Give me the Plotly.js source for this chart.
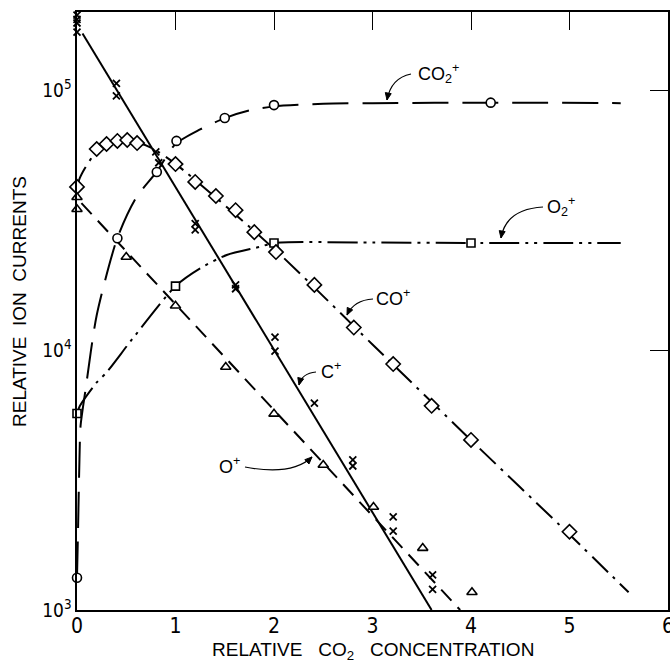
<!DOCTYPE html>
<html><head><meta charset="utf-8">
<script src="https://cdn.plot.ly/plotly-3.0.1.min.js"></script>
<style>html,body{margin:0;padding:0;background:#fff}#c{width:670px;height:670px}</style>
</head><body><div id="c"></div>
<script>
// ---- data ----
// CO2+ (circles)
const co2X = [0, 0.41, 0.81, 1.01, 1.5, 2.0, 4.2];
const co2Y = [1330, 26900, 48400, 63700, 78000, 87500, 89400];
const co2FitX = [0, 0.01, 0.025, 0.036, 0.086, 0.2, 0.41, 0.6, 0.81, 1.0, 1.25, 1.5, 1.75, 2.0, 2.5, 3.0, 4.2, 5.52];
const co2FitY = [1330, 2000, 3800, 5100, 7000, 13600, 27000, 38500, 48500, 62000, 70500, 78000, 83500, 86500, 88500, 89000, 89400, 89000];
// O2+ (squares)
const o2X = [0, 1.0, 2.0, 4.0];
const o2Y = [5700, 17600, 25800, 25800];
const o2FitX = [0, 0.03, 0.2, 0.3, 0.56, 1.0, 1.25, 1.52, 1.85, 2.0, 3.0, 4.0, 5.52];
const o2FitY = [5700, 6100, 7500, 8200, 11000, 17600, 20600, 23200, 24900, 25800, 25900, 25800, 25800];
// CO+ (diamonds)
const coX = [0, 0.2, 0.3, 0.41, 0.51, 0.61, 1.0, 1.2, 1.41, 1.61, 1.8, 2.02, 2.41, 2.81, 3.21, 3.6, 4.0, 5.0];
const coY = [42400, 59300, 62000, 63700, 64200, 62500, 51900, 44300, 39100, 34500, 28400, 23800, 17800, 12200, 8830, 6100, 4510, 2000];
const coFitX = [0, 0.03, 0.08, 0.15, 0.2, 0.3, 0.45, 0.6, 0.76, 1.0, 2.0, 3.0, 4.0, 5.0, 5.6];
const coFitY = [42400, 46000, 50000, 55000, 58500, 62000, 64000, 63000, 59800, 52000, 24500, 10500, 4500, 1950, 1170];
// C+ (crosses)
const cX = [0, 0, 0, 0, 0.4, 0.4, 0.8, 0.83, 1.2, 1.2, 1.61, 1.61, 2.01, 2.01, 2.41, 2.8, 2.8, 3.21, 3.21, 3.61, 3.61];
const cY = [194000, 187000, 181000, 167000, 106000, 95000, 57800, 52500, 30600, 29000, 17800, 17200, 11200, 9900, 6250, 3780, 3580, 2280, 2010, 1365, 1200];
const cFitX = [0.056, 3.6];
const cFitY = [165000, 1000];
// O+ (triangles)
const oX = [0, 0, 0.5, 1.0, 1.51, 2.0, 2.5, 3.01, 3.51, 4.01];
const oY = [38700, 34800, 22800, 14800, 8600, 5680, 3610, 2490, 1730, 1170];
const oFitX = [0.045, 3.89];
const oFitY = [36700, 1000];

const xTicks = [0, 1, 2, 3, 4, 5, 6];
const yTicks = [1000, 10000, 100000];
const yTickText = ['10<sup>3</sup>', '10<sup>4</sup>', '10<sup>5</sup>'];

// ---- styling ----
const FONT = '"Liberation Sans Narrow", "DejaVu Sans Condensed", "Liberation Sans", sans-serif';
const LAB = '"Liberation Sans", Arial, sans-serif';
const K = 'black';

function line(x, y, dash, shape) {
  return {x, y, mode: 'lines', line: {color: K, width: 2, dash, shape: shape || 'spline', smoothing: 0.7},
          hoverinfo: 'skip', cliponaxis: false};
}
function marks(x, y, symbol, size) {
  return {x, y, mode: 'markers', cliponaxis: false,
          marker: {symbol, size, color: 'white', line: {color: K, width: 1.6}}};
}

const traces = [
  line(co2FitX, co2FitY, '36px,14px'),
  line(o2FitX, o2FitY, '30px,6px,3px,6px,3px,6px'),
  line(coFitX, coFitY, '22px,7px,3px,7px'),
  line(cFitX, cFitY, 'solid', 'linear'),
  line(oFitX, oFitY, '15px,9px', 'linear'),
  marks(co2X, co2Y, 'circle', 9),
  marks(o2X, o2Y, 'square', 8),
  marks(coX, coY, 'diamond', 11),
  marks(oX, oY, 'triangle-up', 9),
  {x: cX, y: cY, mode: 'markers', cliponaxis: false,
   marker: {symbol: 'x-thin-open', size: 7, color: K, line: {color: K, width: 1.8}}},
  {x: [], y: [], xaxis: 'x2', yaxis: 'y2', mode: 'markers', hoverinfo: 'skip'}
];

// plot box in pixels
const L = 77, R = 668, T = 12, B = 610;
function P(px, py) { return [(px - L) / (R - L), (B - py) / (B - T)]; }
function arrow(x0, y0, cx, cy, x1, y1) {
  const a = P(x0, y0), c = P(cx, cy), b = P(x1, y1);
  let dx = x1 - cx, dy = y1 - cy; const n = Math.hypot(dx, dy); dx /= n; dy /= n;
  const bl = 7, hw = 3;
  const bx = x1 - dx * bl, by = y1 - dy * bl;
  const h1 = P(bx - dy * hw, by + dx * hw), h2 = P(bx + dy * hw, by - dx * hw);
  return [
    {type: 'path', xref: 'paper', yref: 'paper',
     path: `M ${a[0]} ${a[1]} Q ${c[0]} ${c[1]} ${b[0]} ${b[1]}`, line: {color: K, width: 1.2}},
    {type: 'path', xref: 'paper', yref: 'paper', fillcolor: K,
     path: `M ${b[0]} ${b[1]} L ${h1[0]} ${h1[1]} L ${h2[0]} ${h2[1]} Z`, line: {color: K, width: 1}}
  ];
}
const shapes = [].concat(
  arrow(411, 74, 391, 78, 387, 100),
  arrow(543, 207, 506, 209, 501, 238),
  arrow(373, 299, 354, 300, 347, 315),
  arrow(316, 372, 302, 373, 299, 385),
  arrow(245, 467, 292, 476, 312, 457)
);
function lab(px, py, text) {
  const p = P(px, py);
  return {xref: 'paper', yref: 'paper', x: p[0], y: p[1], xanchor: 'left', yanchor: 'middle',
          text, showarrow: false, font: {family: LAB, size: 18, color: K}};
}
const NB = '\u00a0';
const annotations = [
  lab(416, 73, 'CO<sub>2</sub><sup>+</sup>'),
  lab(545, 206, 'O<sub>2</sub><sup>+</sup>'),
  lab(374, 297, 'CO<sup>+</sup>'),
  lab(319, 370, 'C<sup>+</sup>'),
  lab(217, 465, 'O<sup>+</sup>'),
  {xref: 'paper', yref: 'paper', x: P(373, 0)[0], y: P(0, 651)[1], xanchor: 'center', yanchor: 'middle',
   text: 'RELATIVE' + NB + NB + NB + 'CO<sub>2</sub>' + NB + NB + NB + 'CONCENTRATION', showarrow: false,
   font: {family: LAB, size: 19, color: K}},
  {xref: 'paper', yref: 'paper', x: P(19, 0)[0], y: P(0, 302)[1], xanchor: 'center', yanchor: 'middle',
   textangle: -90, text: 'RELATIVE' + NB + NB + 'ION' + NB + NB + 'CURRENTS', showarrow: false,
   font: {family: LAB, size: 19, color: K}}
];

const layout = {
  width: 670, height: 670, showlegend: false,
  paper_bgcolor: 'white', plot_bgcolor: 'white',
  margin: {l: L, r: 670 - R, t: T, b: 670 - B},
  xaxis: {range: [0, 6], tickvals: xTicks, ticks: '', showgrid: false, zeroline: false,
          showline: true, mirror: true, linecolor: K, linewidth: 1.6, ticklabeloverflow: 'allow',
          ticklabelstandoff: -4,
          tickfont: {family: FONT, size: 21, color: K}},
  yaxis: {type: 'log', range: [3, 5.3], tickvals: yTicks, ticktext: yTickText, ticks: '',
          showgrid: false, zeroline: false, showline: true, mirror: true, linecolor: K, linewidth: 1.6,
          tickfont: {family: FONT, size: 19, color: K}},
  xaxis2: {overlaying: 'x', side: 'top', range: [0, 6], tickvals: [1, 2, 3, 4, 5], ticks: 'inside',
           ticklen: 18, tickcolor: K, tickwidth: 1, showticklabels: false, showgrid: false,
           zeroline: false, showline: false},
  yaxis2: {overlaying: 'y', side: 'right', type: 'log', range: [3, 5.3], tickvals: [10000, 100000],
           ticks: 'inside', ticklen: 18, tickcolor: K, tickwidth: 1, showticklabels: false,
           showgrid: false, zeroline: false, showline: false},
  shapes, annotations
};
Plotly.newPlot('c', traces, layout, {staticPlot: true});
</script></body></html>
